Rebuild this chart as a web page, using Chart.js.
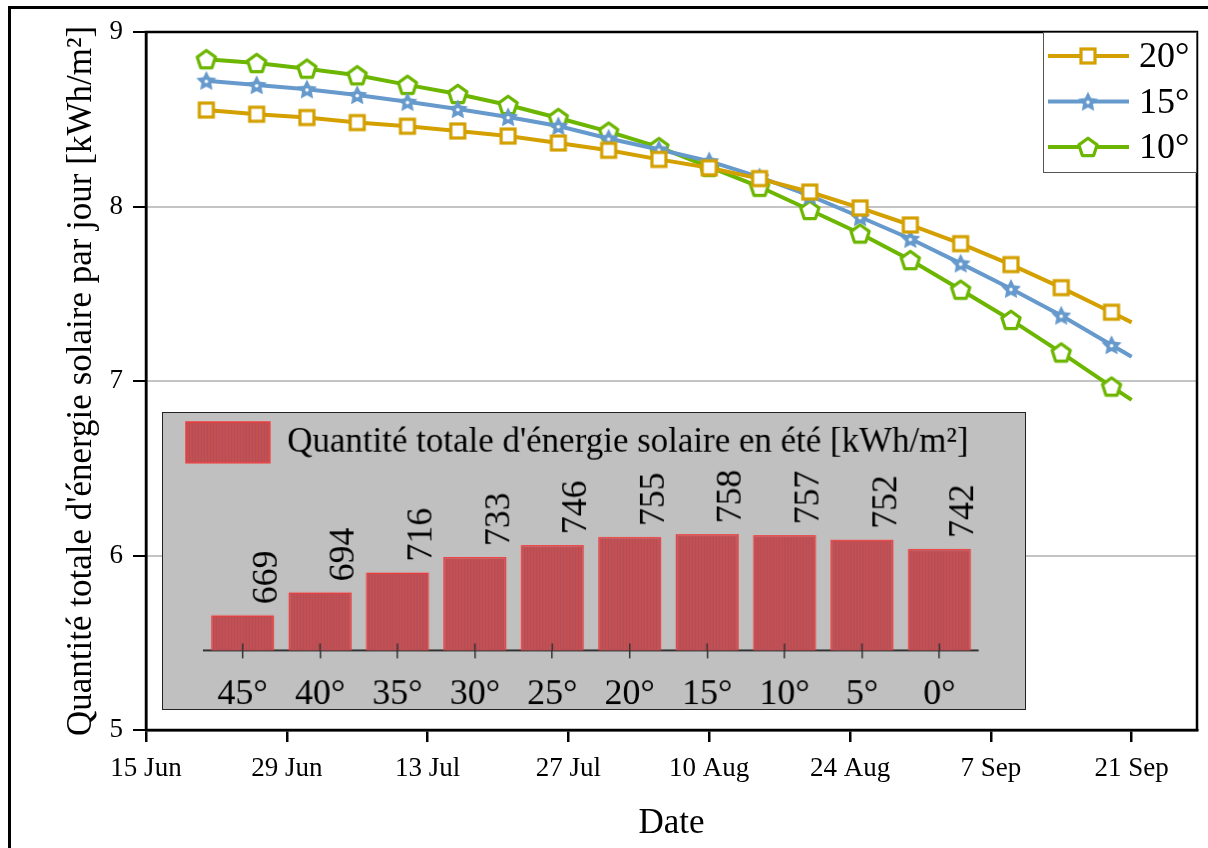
<!DOCTYPE html>
<html lang="fr">
<head>
<meta charset="utf-8">
<title>Énergie solaire selon l'inclinaison</title>
<script src="https://cdn.jsdelivr.net/npm/chart.js@4.4.1/dist/chart.umd.min.js"></script>
<style>
  html, body { margin: 0; padding: 0; background: #fff; overflow: hidden; }
  #wrap { position: relative; width: 1208px; height: 848px; }
  #frame { position: absolute; left: 8px; top: 6px; width: 1400px; height: 1000px; border: 3px solid #000; }
  #main { position: absolute; left: 0; top: 0; }
  #inset { position: absolute; left: 162px; top: 412px; background: #c0c0c0; border: 1px solid #222; }
</style>
</head>
<body>
<div id="wrap">
  <div id="frame"></div>
  <canvas id="main" width="1208" height="848"></canvas>
  <canvas id="inset" width="864" height="298"></canvas>
</div>
<script>
// days counted from 15 Jun
const dayOffsets = [6, 11, 16, 21, 26, 31, 36, 41, 46, 51, 56, 61, 66, 71, 76, 81, 86, 91, 96, 98];
const tickDays = [0, 14, 28, 42, 56, 70, 84, 98];
const tickLabels = ['15 Jun', '29 Jun', '13 Jul', '27 Jul', '10 Aug', '24 Aug', '7 Sep', '21 Sep'];

const daily20 = [8.553, 8.529, 8.510, 8.481, 8.460, 8.433, 8.404, 8.364, 8.322, 8.270,
                 8.222, 8.160, 8.083, 7.992, 7.894, 7.787, 7.667, 7.535, 7.394, 7.336];
const daily15 = [8.721, 8.696, 8.672, 8.639, 8.600, 8.559, 8.513, 8.461, 8.390, 8.327,
                 8.260, 8.168, 8.062, 7.940, 7.815, 7.674, 7.529, 7.375, 7.206, 7.139];
const daily10 = [8.844, 8.822, 8.790, 8.752, 8.697, 8.645, 8.582, 8.507, 8.429, 8.340,
                 8.227, 8.113, 7.980, 7.845, 7.693, 7.523, 7.350, 7.163, 6.968, 6.892];

const tiltLabels = ['45°', '40°', '35°', '30°', '25°', '20°', '15°', '10°', '5°', '0°'];
const summerTotals = [669, 694, 716, 733, 746, 755, 758, 757, 752, 742];

const SERIF = "'Liberation Serif', 'Times New Roman', serif";
const COLORS = { orange: '#d4a000', blue: '#6699cc', green: '#6cb600' };

/** marker images, drawn once and reused for points and legend */
function makeSquare(color) {
  const c = document.createElement('canvas');
  c.width = 20; c.height = 20;
  const g = c.getContext('2d');
  g.fillStyle = '#fff';
  g.fillRect(3, 3, 14, 14);
  g.strokeStyle = color; g.lineWidth = 3.2;
  g.strokeRect(3, 3, 14, 14);
  return c;
}

function makeStar(color) {
  const c = document.createElement('canvas');
  c.width = 24; c.height = 24;
  const g = c.getContext('2d');
  g.beginPath();
  for (let k = 0; k < 10; k++) {
    const r = k % 2 === 0 ? 10.5 : 5.2;
    const a = -Math.PI / 2 + k * Math.PI / 5;
    const px = 12 + r * Math.cos(a), py = 12.8 + r * Math.sin(a);
    if (k === 0) g.moveTo(px, py); else g.lineTo(px, py);
  }
  g.closePath();
  g.fillStyle = color; g.fill();
  g.beginPath(); g.arc(12, 12.8, 1.8, 0, Math.PI * 2);
  g.fillStyle = '#fff'; g.fill();
  return c;
}

function makePentagon(color) {
  const c = document.createElement('canvas');
  c.width = 26; c.height = 26;
  const g = c.getContext('2d');
  g.beginPath();
  for (let k = 0; k < 5; k++) {
    const a = -Math.PI / 2 + k * 2 * Math.PI / 5;
    const px = 13 + 9.6 * Math.cos(a), py = 13.8 + 9.6 * Math.sin(a);
    if (k === 0) g.moveTo(px, py); else g.lineTo(px, py);
  }
  g.closePath();
  g.fillStyle = '#fff'; g.fill();
  g.strokeStyle = color; g.lineWidth = 3.2; g.lineJoin = 'round'; g.stroke();
  return c;
}

const markers = [makeSquare(COLORS.orange), makeStar(COLORS.blue), makePentagon(COLORS.green)];

function toPoints(values) {
  return dayOffsets.map((d, i) => ({ x: d, y: values[i] }));
}

// last sample closes the curve at 21 Sep, without a marker
const hideLast = ctx => (ctx.dataIndex === dayOffsets.length - 1 ? 0 : 7);

function lineSet(label, values, color, marker) {
  return {
    label,
    data: toPoints(values),
    borderColor: color,
    backgroundColor: color,
    borderWidth: 4,
    tension: 0,
    pointStyle: marker,
    pointRadius: hideLast,
  };
}

const plotFrame = {
  id: 'plotFrame',
  beforeDatasetsDraw(chart) {
    const { ctx, chartArea: a } = chart;
    ctx.save();
    ctx.strokeStyle = '#000';
    ctx.lineWidth = 2.5;
    ctx.strokeRect(a.left, a.top, a.right - a.left, a.bottom - a.top);
    ctx.restore();
  }
};

// legend with a line segment through each marker, top right inside the plot
const lineLegend = {
  id: 'lineLegend',
  afterDatasetsDraw(chart) {
    const { ctx, chartArea: a } = chart;
    const bx = a.right - 154, by = a.top;
    ctx.save();
    ctx.fillStyle = '#fff';
    ctx.fillRect(bx, by, 153, 140);
    ctx.strokeStyle = '#555';
    ctx.lineWidth = 1;
    ctx.strokeRect(bx + 0.5, by + 0.5, 153, 140);
    chart.data.datasets.forEach((ds, i) => {
      const y = by + 24 + i * 45.5;
      ctx.strokeStyle = ds.borderColor;
      ctx.lineWidth = 4;
      ctx.beginPath();
      ctx.moveTo(bx + 5, y);
      ctx.lineTo(bx + 86, y);
      ctx.stroke();
      const m = ds.pointStyle;
      ctx.drawImage(m, bx + 45 - m.width / 2, y - m.height / 2);
      ctx.fillStyle = '#000';
      ctx.font = '36px ' + SERIF;
      ctx.textBaseline = 'middle';
      ctx.fillText(ds.label, bx + 96, y + 2);
    });
    ctx.restore();
  }
};

new Chart(document.getElementById('main'), {
  type: 'line',
  data: {
    datasets: [
      lineSet('20°', daily20, COLORS.orange, markers[0]),
      lineSet('15°', daily15, COLORS.blue, markers[1]),
      lineSet('10°', daily10, COLORS.green, markers[2]),
    ]
  },
  options: {
    responsive: false,
    animation: false,
    layout: { padding: { top: 32, right: 10, bottom: 0, left: 0 } },
    plugins: {
      legend: { display: false },
      tooltip: { enabled: false },
    },
    scales: {
      x: {
        type: 'linear',
        min: 0,
        max: 104.5,
        afterBuildTicks: scale => { scale.ticks = tickDays.map(v => ({ value: v })); },
        afterFit: scale => { scale.height = 118; },
        ticks: {
          autoSkip: false,
          maxRotation: 0,
          padding: 11,
          color: '#000',
          font: { family: SERIF, size: 27 },
          callback: value => tickLabels[tickDays.indexOf(value)],
        },
        grid: { drawOnChartArea: false, color: '#000', lineWidth: 2.5, tickLength: 12 },
        border: { color: '#000', width: 2.5 },
        title: {
          display: true,
          text: 'Date',
          color: '#000',
          font: { family: SERIF, size: 35 },
          padding: { top: 0, bottom: 3 },
        },
      },
      y: {
        min: 5,
        max: 9,
        afterFit: scale => { scale.width = 146; },
        ticks: {
          stepSize: 1,
          padding: 10,
          color: '#000',
          font: { family: SERIF, size: 27 },
        },
        grid: { color: '#c4c4c4', lineWidth: 2, tickColor: '#000', tickLength: 13 },
        border: { color: '#000', width: 2.5 },
        title: {
          display: true,
          text: "Quantité totale d'énergie solaire par jour [kWh/m²]",
          color: '#000',
          font: { family: SERIF, size: 35 },
          padding: { top: 61, bottom: 0 },
        },
      }
    }
  },
  plugins: [plotFrame, lineLegend]
});

// ---- inset: summer totals per tilt angle ----
const insetCanvas = document.getElementById('inset');

function stripePattern(ctx) {
  const c = document.createElement('canvas');
  c.width = 3; c.height = 4;
  const g = c.getContext('2d');
  g.fillStyle = '#c45052';
  g.fillRect(0, 0, 3, 4);
  g.fillStyle = '#b24e5a';
  g.fillRect(2, 0, 1, 4);
  return ctx.createPattern(c, 'repeat');
}

// small ticks crossing the baseline (the part above the axis)
const crossTicks = {
  id: 'crossTicks',
  afterDatasetsDraw(chart) {
    const { ctx } = chart;
    const xs = chart.scales.x;
    ctx.save();
    ctx.strokeStyle = '#333';
    ctx.lineWidth = 1.5;
    xs.ticks.forEach((t, i) => {
      const px = xs.getPixelForTick(i);
      ctx.beginPath();
      ctx.moveTo(px, xs.top - 7);
      ctx.lineTo(px, xs.top);
      ctx.stroke();
    });
    ctx.restore();
  }
};

const barValues = {
  id: 'barValues',
  afterDatasetsDraw(chart) {
    const { ctx } = chart;
    const ds = chart.data.datasets[0];
    ctx.save();
    ctx.fillStyle = '#000';
    ctx.font = '36px ' + SERIF;
    ctx.textAlign = 'left';
    ctx.textBaseline = 'alphabetic';
    chart.getDatasetMeta(0).data.forEach((bar, i) => {
      ctx.save();
      ctx.translate(bar.x + 34, bar.y - 11);
      ctx.rotate(-Math.PI / 2);
      ctx.fillText(String(ds.data[i]), 0, 0);
      ctx.restore();
    });
    ctx.restore();
  }
};

new Chart(insetCanvas, {
  type: 'bar',
  data: {
    labels: tiltLabels,
    datasets: [{
      label: "Quantité totale d'énergie solaire en été [kWh/m²]",
      data: summerTotals,
      backgroundColor: stripePattern(insetCanvas.getContext('2d')),
      borderColor: '#ee3c3c',
      borderWidth: 1.5,
      barPercentage: 0.815,
      categoryPercentage: 1,
    }]
  },
  options: {
    responsive: false,
    animation: false,
    layout: { padding: { top: 0, right: 47, bottom: 0, left: 14 } },
    plugins: {
      tooltip: { enabled: false },
      legend: {
        position: 'top',
        align: 'start',
        labels: {
          color: '#000',
          font: { family: SERIF, size: 35 },
          boxWidth: 84,
          boxHeight: 41,
          padding: 9,
        }
      }
    },
    scales: {
      x: {
        afterFit: scale => { scale.height = 59; },
        ticks: { color: '#000', padding: 15, font: { family: SERIF, size: 36 } },
        grid: { offset: false, drawOnChartArea: false, color: '#333', lineWidth: 1.5, tickLength: 8 },
        border: { color: '#333', width: 2 },
      },
      y: {
        min: 630,
        max: 826,
        afterFit: scale => { scale.width = 27; },
        ticks: { display: false },
        grid: { display: false },
        border: { display: false },
      }
    }
  },
  plugins: [crossTicks, barValues]
});
</script>
</body>
</html>
